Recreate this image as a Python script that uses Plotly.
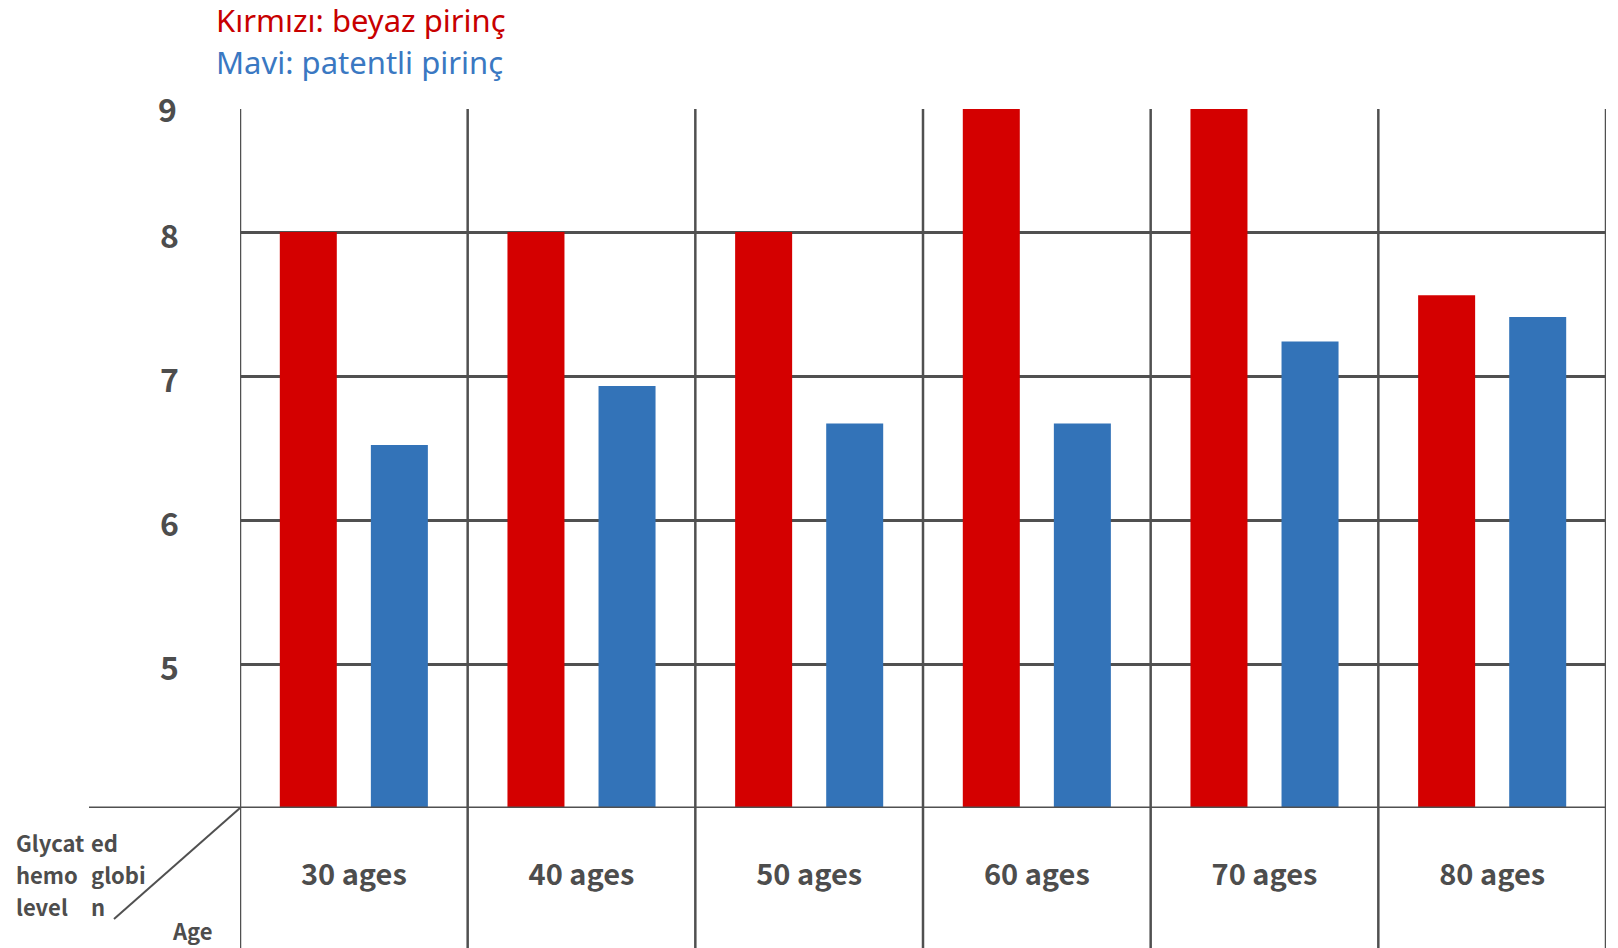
import plotly.graph_objects as go

categories = ["30 ages", "40 ages", "50 ages", "60 ages", "70 ages", "80 ages"]
white_rice = [8.0, 8.0, 8.0, 9.0, 9.0, 7.56]
patent_rice = [6.52, 6.93, 6.67, 6.67, 7.24, 7.41]
series_names = ["Kırmızı: beyaz pirinç", "Mavi: patentli pirinç"]
y_ticks = [5, 6, 7, 8]
top_label = "9"
corner_col1 = ["Glycat", "hemo", "level"]
corner_col2 = ["ed", "globi", "n"]
corner_age = "Age"

RED = "#d40000"
BLUE = "#3373b8"
GRID = "#505050"
TXT = "#4d4d4d"

W, H = 1618, 948
L, R, T, B = 240, 12, 109, 140
PW, PH = W - L - R, H - T - B
YMIN = 4
YMAX = YMIN + PH / 144.0


def px_x(px):
    return (px - L) / PW


def px_y(py):
    return (H - B - py) / PH


fig = go.Figure()
fig.add_trace(go.Bar(x=categories, y=white_rice, name=series_names[0],
                     marker=dict(color=RED, line=dict(width=0))))
fig.add_trace(go.Bar(x=categories, y=patent_rice, name=series_names[1],
                     marker=dict(color=BLUE, line=dict(width=0))))

shapes = []
for i in range(len(categories) + 1):
    shapes.append(dict(type="line", xref="x", yref="paper",
                       x0=i - 0.5, x1=i - 0.5, y0=-0.25, y1=1,
                       line=dict(color=GRID, width=2.5), layer="below"))
# baseline
shapes.append(dict(type="line", xref="paper", yref="y",
                   x0=px_x(89), x1=1, y0=YMIN, y1=YMIN,
                   line=dict(color=GRID, width=3)))
# diagonal
shapes.append(dict(type="line", xref="paper", yref="paper",
                   x0=0, y0=0, x1=px_x(114), y1=px_y(919),
                   line=dict(color=GRID, width=2)))

corner_font = dict(family="Noto Sans CJK KR", size=22, color=TXT, weight=700)
annotations = [
    dict(text=series_names[0], xref="paper", yref="paper", x=px_x(214), y=px_y(20),
         xanchor="left", yanchor="middle", showarrow=False,
         font=dict(family="Noto Sans", size=31, color="#c80000")),
    dict(text=series_names[1], xref="paper", yref="paper", x=px_x(214), y=px_y(62),
         xanchor="left", yanchor="middle", showarrow=False,
         font=dict(family="Noto Sans", size=31, color="#3a78c2")),
    dict(text=top_label, xref="paper", yref="paper", x=px_x(179), y=px_y(108),
         xanchor="right", yanchor="middle", showarrow=False,
         font=dict(family="Noto Sans CJK KR", size=32, color=TXT, weight=700)),
    dict(text=corner_age, xref="paper", yref="paper", x=px_x(170), y=px_y(930),
         xanchor="left", yanchor="middle", showarrow=False, font=corner_font),
]
line_y = [842, 874, 906]
for t1, t2, yy in zip(corner_col1, corner_col2, line_y):
    annotations.append(dict(text=t1, xref="paper", yref="paper", x=px_x(14), y=px_y(yy),
                            xanchor="left", yanchor="middle", showarrow=False, font=corner_font))
    annotations.append(dict(text=t2, xref="paper", yref="paper", x=px_x(89), y=px_y(yy),
                            xanchor="left", yanchor="middle", showarrow=False, font=corner_font))

fig.update_layout(
    width=W, height=H,
    margin=dict(l=L, r=R, t=T, b=B, pad=0),
    paper_bgcolor="white", plot_bgcolor="white",
    barmode="group", bargap=0.2, bargroupgap=0.374,
    showlegend=False,
    shapes=shapes, annotations=annotations,
    xaxis=dict(showgrid=False, zeroline=False, showline=False, ticks="",
               tickfont=dict(family="Noto Sans CJK KR", size=29, color=TXT, weight=700),
               ticklabelstandoff=47, range=[-0.5, len(categories) - 0.5]),
    yaxis=dict(range=[YMIN, YMAX], tickvals=y_ticks, showgrid=True,
               gridcolor=GRID, gridwidth=2.5, zeroline=False, showline=False,
               ticks="", ticklabelstandoff=60, ticklabelshift=5,
               tickfont=dict(family="Noto Sans CJK KR", size=32, color=TXT, weight=700)),
)

fig.write_html("out.html", config={"displayModeBar": False},
               post_script="document.body.style.margin='0';document.body.style.overflow='hidden';")
